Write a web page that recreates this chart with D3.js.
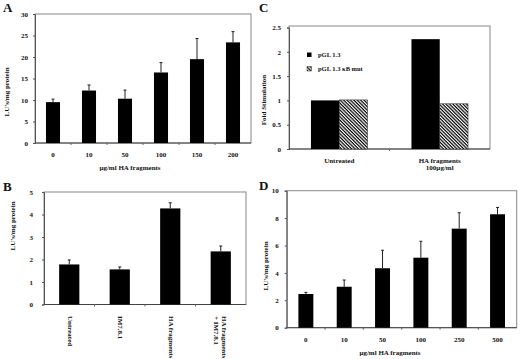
<!DOCTYPE html>
<html><head><meta charset="utf-8">
<script src="https://cdn.jsdelivr.net/npm/d3@7"></script>
<style>
body{margin:0;background:#fff}
svg text{font-family:"Liberation Serif","Times New Roman",serif;font-weight:bold;fill:#111}
</style></head><body>
<svg id="c" width="520" height="359"></svg>
<script>
// ---------- data ----------
const catsA = ["0","10","50","100","150","200"];
const valsA = [9.5,12.2,10.3,16.4,19.5,23.4];
const errA  = [0.7,1.3,2.0,2.3,4.8,2.5];
const ticksA = [0,5,10,15,20,25,30];

const catsB = ["Untreated","IM7.8.1","HA fragments","HA fragments\n+ IM7.8.1"];
const valsB = [1.78,1.56,4.27,2.36];
const errB  = [0.2,0.11,0.25,0.24];
const ticksB = [0,1,2,3,4,5];

const groupsC = ["Untreated","HA fragments\n100µg/ml"];
const seriesC = ["pGL 1.3","pGL 1.3 κB mut"];
const valsCwt  = [1.0,2.26];
const valsCmut = [1.01,0.93];
const ticksC = [0,0.5,1,1.5,2,2.5];

const catsD = ["0","10","50","100","250","500"];
const valsD = [2.46,2.99,4.34,5.11,7.23,8.28];
const errD  = [0.12,0.49,1.31,1.2,1.16,0.5];
const ticksD = [0,2,4,6,8,10];

// ---------- drawing ----------
const svg = d3.select("#c");
const defs = svg.append("defs");
const pat = defs.append("pattern").attr("id","hatch").attr("patternUnits","userSpaceOnUse")
  .attr("width",4).attr("height",2.4).attr("patternTransform","rotate(45)");
pat.append("rect").attr("width",4).attr("height",2.4).attr("fill","#fff");
pat.append("rect").attr("width",4).attr("height",1.2).attr("fill","#000");

function frame(g, x0, x1, yT, yB, y, ticks, pad, x, n){
  g.append("rect").attr("x",x0).attr("y",yT).attr("width",x1-x0).attr("height",yB-yT)
    .attr("fill","none").attr("stroke","#888").attr("stroke-width",1);
  const ax = g.append("g").attr("transform",`translate(${x0},0)`)
    .call(d3.axisLeft(y).tickValues(ticks).tickSize(2).tickPadding(pad).tickFormat(d=>String(d)));
  ax.select(".domain").attr("stroke","#555");
  ax.selectAll("line").attr("stroke","#555");
  ax.selectAll("text").attr("font-size",7).attr("font-family","Liberation Serif").attr("font-weight","bold");
  g.append("line").attr("x1",x0).attr("x2",x1).attr("y1",yB).attr("y2",yB).attr("stroke","#444");
  // small ticks at band boundaries
  const r0 = x.range()[0], st = x.step();
  g.selectAll(null).data(d3.range(1,n)).join("line")
    .attr("x1",i=>r0+i*st).attr("x2",i=>r0+i*st).attr("y1",yB).attr("y2",yB+2)
    .attr("stroke","#666");
}

function bars(g, cats, vals, errs, x, y){
  g.selectAll(null).data(cats).join("rect")
    .attr("x",(c)=>x(c)).attr("width",x.bandwidth())
    .attr("y",(c,i)=>y(vals[i])).attr("height",(c,i)=>y(0)-y(vals[i])).attr("fill","#000");
  g.selectAll(null).data(cats).join("line")
    .attr("x1",c=>x(c)+x.bandwidth()/2).attr("x2",c=>x(c)+x.bandwidth()/2)
    .attr("y1",(c,i)=>y(vals[i])).attr("y2",(c,i)=>y(vals[i]+errs[i]))
    .attr("stroke","#222").attr("stroke-width",1);
  g.selectAll(null).data(cats).join("line")
    .attr("x1",c=>x(c)+x.bandwidth()/2-1.5).attr("x2",c=>x(c)+x.bandwidth()/2+1.5)
    .attr("y1",(c,i)=>y(vals[i]+errs[i])).attr("y2",(c,i)=>y(vals[i]+errs[i]))
    .attr("stroke","#222").attr("stroke-width",1);
}

function letter(t,xp,yp){
  svg.append("text").attr("x",xp).attr("y",yp).attr("font-size",13).text(t);
}
function ytitle(t,xp,yp){
  svg.append("text").attr("transform",`translate(${xp},${yp}) rotate(-90)`)
    .attr("text-anchor","middle").attr("font-size",7).text(t);
}

// ----- Panel A -----
{
  const g = svg.append("g");
  const x0=35,x1=251,yT=14,yB=143;
  const x = d3.scaleBand().domain(catsA).range([x0,x1]).paddingInner(0.61).paddingOuter(0.305);
  const y = d3.scaleLinear().domain([0,30]).range([yB,yT]);
  frame(g,x0,x1,yT,yB,y,ticksA,5,x,catsA.length);
  bars(g,catsA,valsA,errA,x,y);
  g.selectAll(null).data(catsA).join("text").attr("x",c=>x(c)+x.bandwidth()/2).attr("y",157)
    .attr("text-anchor","middle").attr("font-size",7).text(c=>c);
  g.append("text").attr("x",130).attr("y",170).attr("text-anchor","middle").attr("font-size",7).text("µg/ml HA fragments");
  letter("A",3,12);
  ytitle("LU's/mg protein",8.5,92);
}

// ----- Panel B -----
{
  const g = svg.append("g");
  const x0=44,x1=246,yT=192,yB=304.5;
  const x = d3.scaleBand().domain(catsB).range([x0,x1]).paddingInner(0.6).paddingOuter(0.3);
  const y = d3.scaleLinear().domain([0,5]).range([yB,yT]);
  frame(g,x0,x1,yT,yB,y,ticksB,9,x,catsB.length);
  bars(g,catsB,valsB,errB,x,y);
  catsB.forEach(c=>{
    const lines=c.split("\n");
    const cx=x(c)+x.bandwidth()/2;
    const t=g.append("text").attr("transform",`translate(${cx-1.5+(lines.length-1)*2.5},316) rotate(90)`)
      .attr("font-size",7);
    lines.forEach((l,i)=>t.append("tspan").attr("x",0).attr("dy",i?"1.1em":0).text(l));
  });
  letter("B",3,191);
  ytitle("LU's/mg protein",15,226);
}

// ----- Panel C -----
{
  const g = svg.append("g");
  const x0=289,x1=490,yT=26,yB=149;
  const x = d3.scaleBand().domain(groupsC).range([x0,x1]).paddingInner(0.437).paddingOuter(0.2185);
  const xi = d3.scaleBand().domain(seriesC).range([0,x.bandwidth()]);
  const y = d3.scaleLinear().domain([0,2.5]).range([yB,yT+1.5]);
  frame(g,x0,x1,yT,yB,y,ticksC,6,x,groupsC.length);
  const fills=["#000","url(#hatch)"];
  const sv=[valsCwt,valsCmut];
  seriesC.forEach((s,k)=>{
    g.selectAll(null).data(groupsC).join("rect")
      .attr("x",gc=>x(gc)+xi(s)).attr("width",xi.bandwidth())
      .attr("y",(gc,i)=>y(sv[k][i])).attr("height",(gc,i)=>y(0)-y(sv[k][i]))
      .attr("fill",fills[k]).attr("stroke",k?"#222":"none").attr("stroke-width",0.5);
  });
  groupsC.forEach(c=>{
    const lines=c.split("\n");
    const t=g.append("text").attr("x",x(c)+x.bandwidth()/2).attr("y",163).attr("text-anchor","middle").attr("font-size",7);
    lines.forEach((l,i)=>t.append("tspan").attr("x",x(c)+x.bandwidth()/2).attr("dy",i?"1.05em":0).text(l));
  });
  // legend
  seriesC.forEach((s,k)=>{
    g.append("rect").attr("x",307).attr("y",52.5+k*14).attr("width",4.5).attr("height",4.5)
      .attr("fill",fills[k]).attr("stroke",k?"#333":"none").attr("stroke-width",0.5);
    g.append("text").attr("x",318).attr("y",57+k*14).attr("font-size",6.5).text(s);
  });
  letter("C",259,12);
  ytitle("Fold Stimulation",265.5,100);
}

// ----- Panel D -----
{
  const g = svg.append("g");
  const x0=286.7,x1=516.7,yT=190.7,yB=327.7;
  const x = d3.scaleBand().domain(catsD).range([x0,x1]).paddingInner(0.61).paddingOuter(0.305);
  const y = d3.scaleLinear().domain([0,10]).range([yB,yT]);
  frame(g,x0,x1,yT,yB,y,ticksD,6,x,catsD.length);
  bars(g,catsD,valsD,errD,x,y);
  g.selectAll(null).data(catsD).join("text").attr("x",c=>x(c)+x.bandwidth()/2).attr("y",341.5)
    .attr("text-anchor","middle").attr("font-size",7).text(c=>c);
  g.append("text").attr("x",390).attr("y",355).attr("text-anchor","middle").attr("font-size",7).text("µg/ml HA fragments");
  letter("D",259,190);
  ytitle("LU's/mg protein",268,266);
}
</script>
</body></html>
